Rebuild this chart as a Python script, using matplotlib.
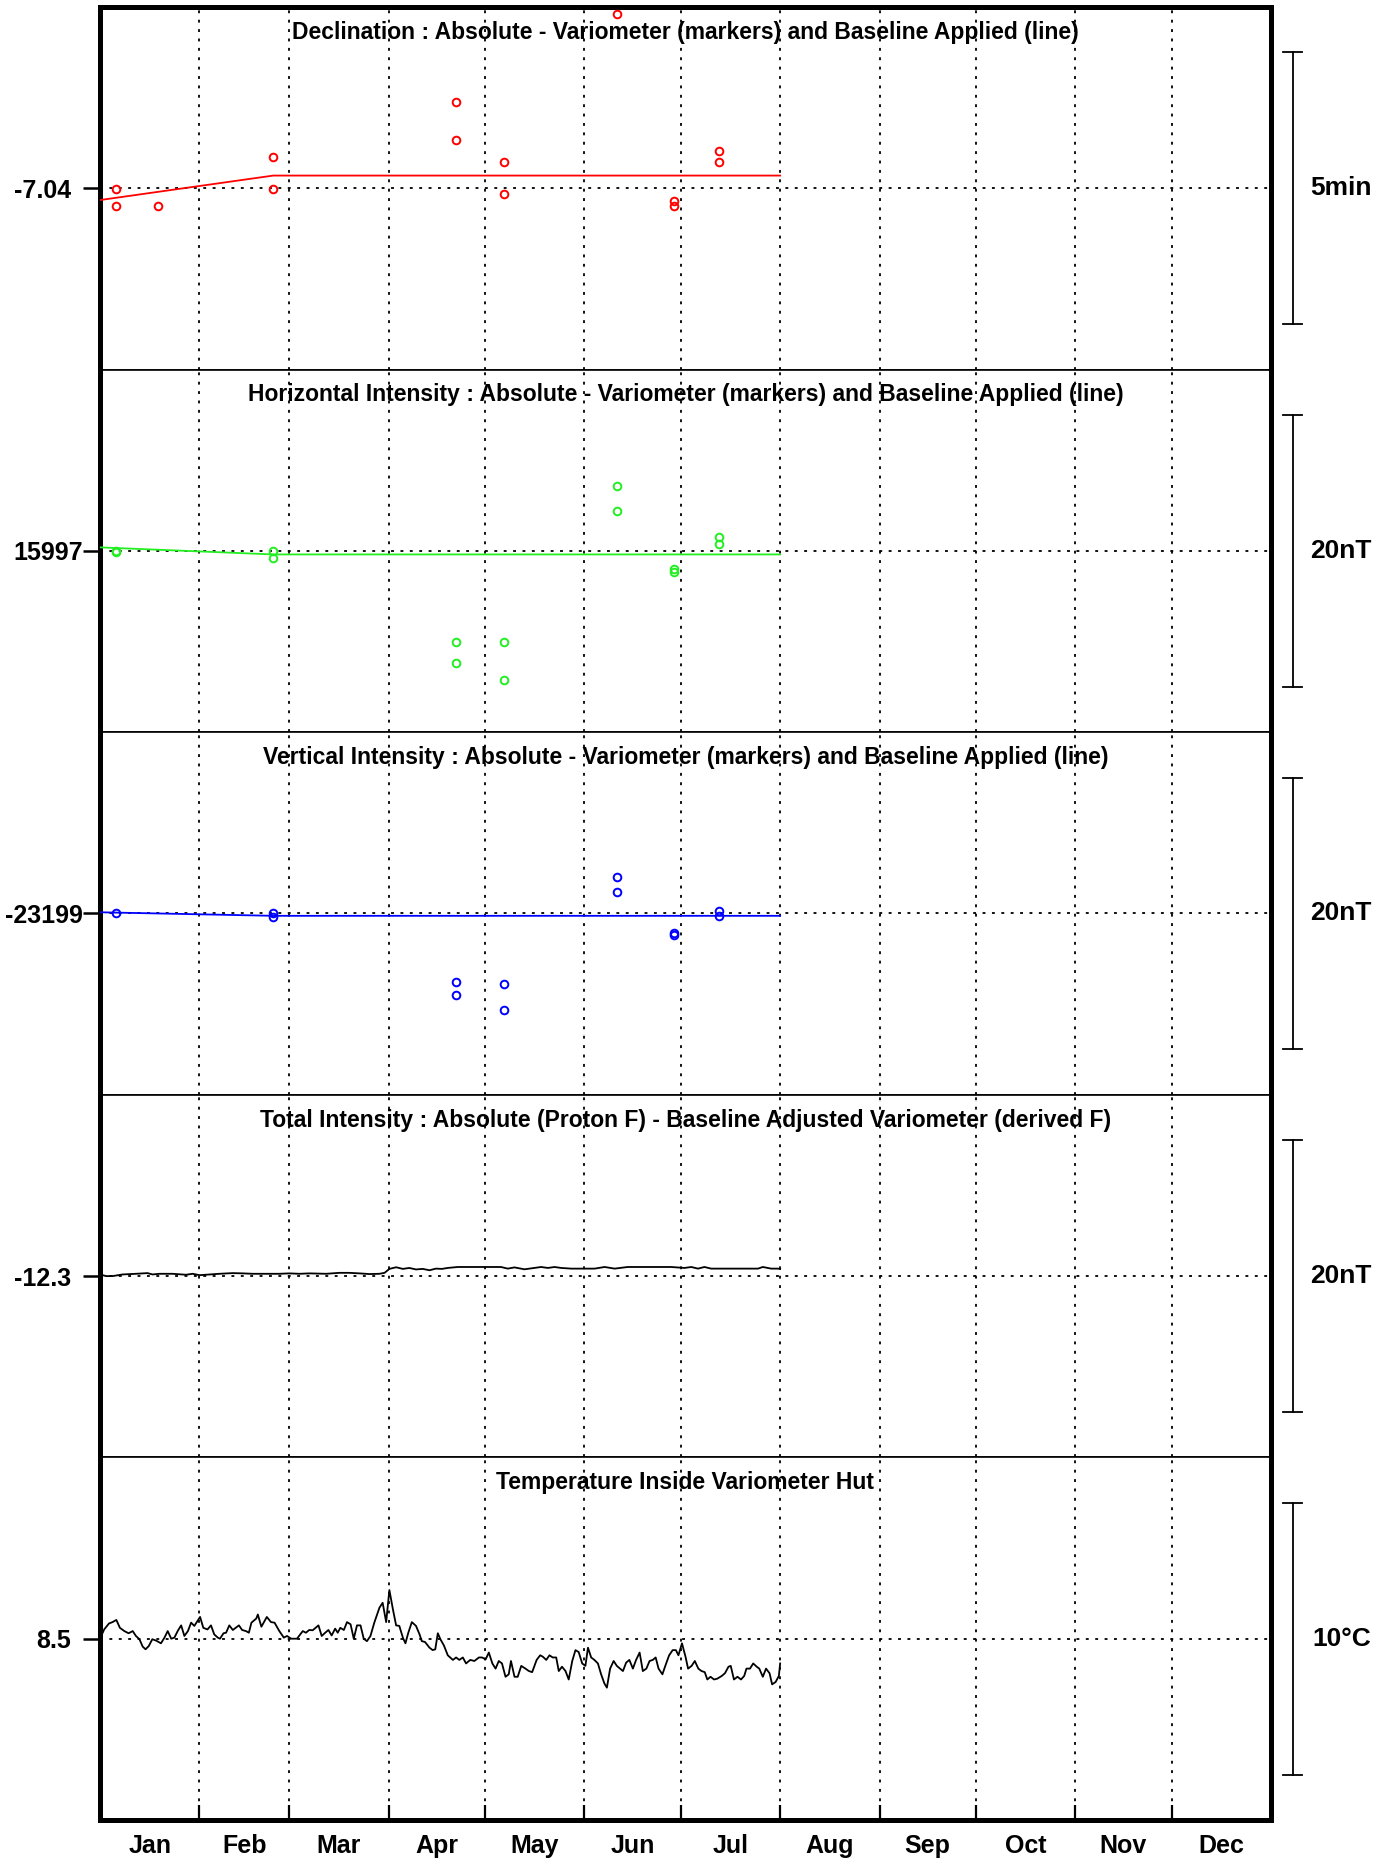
import matplotlib
matplotlib.use('Agg')
import matplotlib.pyplot as plt
import matplotlib.transforms as mtransforms

plt.rcParams['font.family'] = ['Liberation Sans', 'DejaVu Sans']
plt.rcParams['font.weight'] = 'bold'

# x axis: day of year
month_names = ['Jan', 'Feb', 'Mar', 'Apr', 'May', 'Jun',
               'Jul', 'Aug', 'Sep', 'Oct', 'Nov', 'Dec']
month_starts = [0, 31, 59, 90, 120, 151, 181, 212, 243, 273, 304, 334, 365]

# Declination (degrees)
d_days = [5, 5, 18, 54, 54, 111, 111, 126, 126, 161, 179, 179, 193, 193]
d_vals = [-7.0403, -7.0453, -7.0453, -7.0303, -7.0403, -7.0137, -7.0253,
          -7.0320, -7.0418, -6.9867, -7.0440, -7.0455, -7.0287, -7.0320]
d_base_days = [0, 54, 212]
d_base_vals = [-7.0436, -7.0361, -7.0361]

# Horizontal intensity (nT)
h_days = [5, 5, 54, 54, 111, 111, 126, 126, 161, 161, 179, 179, 193, 193]
h_vals = [15997.0, 15996.9, 15997.0, 15996.48, 15990.28, 15988.79, 15990.28,
          15987.48, 16001.80, 15999.97, 15995.69, 15995.43, 15998.05, 15997.52]
h_base_days = [0, 54, 212]
h_base_vals = [15997.26, 15996.74, 15996.74]

# Vertical intensity (nT)
z_days = [5, 54, 54, 111, 111, 126, 126, 161, 161, 179, 179, 193, 193]
z_vals = [-23199.0, -23199.0, -23199.26, -23204.07, -23205.03, -23204.15,
          -23206.07, -23196.29, -23197.43, -23200.40, -23200.57, -23198.83,
          -23199.17]
z_base_days = [0, 54, 212]
z_base_vals = [-23198.91, -23199.17, -23199.17]

# Total intensity difference (nT)
f_days = [0, 1.9, 3.9, 7.0, 11.2, 14.8, 16.4, 18.5, 22.6, 26.8, 28.9, 31.0,
          33.0, 37.2, 41.4, 44.5, 47.6, 51.8, 55.9, 59.0, 62.2, 65.3, 70.5,
          74.6, 77.7, 80.9, 84.0, 87.1, 88.7, 90.2, 92.3, 94.4, 96.4, 98.5,
          100.6, 102.7, 104.7, 106.6, 108.4, 111.5, 118.8, 125.0, 127.1,
          129.2, 132.3, 135.4, 137.5, 139.6, 141.7, 143.7, 146.9, 151.0,
          154.2, 157.3, 160.4, 164.5, 169.7, 178.0, 182.2, 184.3, 186.4,
          188.4, 190.5, 198.8, 205.1, 206.6, 209.2, 211.3, 212.0]
f_vals = [-12.18, -12.30, -12.30, -12.18, -12.13, -12.08, -12.18, -12.13,
          -12.13, -12.20, -12.13, -12.23, -12.20, -12.13, -12.08, -12.10,
          -12.13, -12.13, -12.13, -12.10, -12.13, -12.10, -12.13, -12.06,
          -12.06, -12.10, -12.15, -12.13, -12.06, -11.77, -11.65, -11.77,
          -11.70, -11.81, -11.77, -11.87, -11.75, -11.77, -11.70, -11.63,
          -11.63, -11.63, -11.75, -11.66, -11.80, -11.70, -11.63, -11.70,
          -11.63, -11.70, -11.75, -11.75, -11.75, -11.63, -11.75, -11.63,
          -11.63, -11.63, -11.70, -11.63, -11.75, -11.63, -11.75, -11.75,
          -11.75, -11.63, -11.75, -11.75, -11.78]

# Temperature inside variometer hut (deg C)
t_days = [0.0, 1.3, 2.8, 3.9, 5.1, 6.2, 7.6, 8.9, 10.2, 11.2, 12.3, 13.3, 14.2,
          15.2, 16.3, 17.5, 19.0, 20.1, 21.1, 22.2, 23.2, 24.2, 25.3, 26.3,
          27.4, 28.4, 29.4, 31.2, 32.2, 33.5, 34.6, 35.6, 36.7, 37.4, 38.5,
          39.3, 40.3, 41.4, 43.3, 44.3, 45.5, 46.4, 47.2, 48.7, 49.2, 50.3,
          52.0, 53.3, 54.4, 55.9, 57.3, 58.3, 59.6, 61.4, 63.2, 64.2, 65.2,
          66.3, 68.1, 69.1, 70.2, 71.2, 72.2, 73.3, 74.1, 74.9, 76.0, 77.0,
          78.1, 79.1, 80.1, 81.2, 82.2, 83.2, 84.3, 85.5, 87.1, 88.1, 89.2,
          90.2, 91.3, 92.3, 93.3, 94.4, 95.2, 96.1, 97.2, 98.5, 99.6, 100.3,
          101.3, 102.7, 103.7, 104.5, 105.3, 106.1, 107.2, 108.4, 110.0,
          111.0, 112.0, 113.1, 114.1, 115.4, 116.7, 118.1, 119.1, 120.2,
          121.2, 122.3, 123.3, 124.3, 125.3, 126.4, 127.4, 128.1, 129.2,
          130.2, 131.3, 132.6, 133.7, 134.7, 136.1, 137.2, 138.0, 139.1,
          140.1, 141.1, 142.2, 143.0, 144.0, 145.1, 146.1, 147.2, 148.2,
          149.2, 150.3, 151.3, 152.1, 153.1, 154.1, 155.2, 156.2, 157.2,
          158.0, 159.0, 160.1, 161.1, 163.0, 164.0, 165.0, 166.1, 167.1,
          168.2, 169.2, 170.3, 171.3, 172.3, 173.2, 174.1, 175.3, 176.2,
          177.4, 178.5, 179.5, 180.3, 181.4, 182.5, 183.3, 184.4, 185.4,
          186.5, 187.5, 188.5, 189.3, 190.3, 191.4, 192.4, 193.8, 194.8,
          195.9, 196.6, 197.6, 198.7, 199.8, 200.8, 201.5, 202.6, 203.6,
          204.7, 205.5, 206.6, 207.6, 208.7, 209.5, 210.6, 211.6, 212.0]
t_vals = [8.50, 8.84, 9.06, 9.11, 9.19, 8.90, 8.78, 8.70, 8.78, 8.60, 8.48,
          8.21, 8.11, 8.23, 8.48, 8.43, 8.33, 8.54, 8.78, 8.50, 8.54, 8.78,
          8.99, 8.60, 8.78, 9.09, 8.97, 9.30, 8.90, 8.84, 8.99, 8.66, 8.54,
          8.50, 8.70, 8.72, 8.99, 8.82, 8.99, 8.82, 8.78, 8.72, 9.09, 9.24,
          9.39, 8.94, 9.30, 9.11, 9.09, 8.78, 8.54, 8.60, 8.50, 8.50, 8.78,
          8.72, 8.82, 8.81, 8.99, 8.60, 8.72, 8.82, 8.62, 8.87, 8.72, 8.90,
          8.82, 9.11, 9.03, 8.50, 8.99, 8.99, 8.50, 8.41, 8.60, 9.09, 9.64,
          9.82, 9.11, 10.29, 9.58, 8.99, 8.97, 8.54, 8.33, 8.72, 9.11, 8.97,
          8.66, 8.41, 8.38, 8.17, 8.08, 8.11, 8.70, 8.48, 8.25, 7.89, 7.72,
          7.81, 7.72, 7.81, 7.59, 7.72, 7.68, 7.81, 7.81, 7.74, 7.99, 7.59,
          7.40, 7.68, 7.59, 7.10, 7.19, 7.68, 7.10, 7.10, 7.50, 7.40, 7.31,
          7.27, 7.72, 7.89, 7.84, 7.72, 7.89, 7.81, 7.81, 7.31, 7.47, 7.31,
          7.00, 7.68, 8.08, 8.01, 7.59, 7.50, 8.17, 7.81, 7.72, 7.59, 7.19,
          6.86, 6.70, 7.40, 7.68, 7.50, 7.31, 7.62, 7.72, 7.40, 7.72, 7.99,
          7.31, 7.40, 7.68, 7.72, 7.81, 7.40, 7.19, 7.50, 7.89, 8.08, 8.08,
          7.89, 8.33, 7.84, 7.40, 7.50, 7.68, 7.40, 7.31, 7.27, 7.00, 7.10,
          7.00, 7.03, 7.13, 7.23, 7.47, 7.50, 7.00, 7.10, 7.00, 7.13, 7.40,
          7.40, 7.59, 7.47, 7.40, 7.10, 7.40, 7.23, 6.82, 6.91, 7.13, 7.59]

titles = [
    'Declination : Absolute - Variometer (markers) and Baseline Applied (line)',
    'Horizontal Intensity : Absolute - Variometer (markers) and Baseline Applied (line)',
    'Vertical Intensity : Absolute - Variometer (markers) and Baseline Applied (line)',
    'Total Intensity : Absolute (Proton F) - Baseline Adjusted Variometer (derived F)',
    'Temperature Inside Variometer Hut',
]
centres = [-7.04, 15997, -23199, -12.3, 8.5]
centre_labels = ['-7.04', '15997', '-23199', '-12.3', '8.5']
bar_sizes = [5 / 60.0, 20, 20, 20, 10]
bar_labels = ['5min', '20nT', '20nT', '20nT', '10°C']
label_pads = [9, 0.5, 0.5, 9, 9]

W, H = 1386, 1863
fig = plt.figure(figsize=(W / 100, H / 100), dpi=100)
gs = fig.add_gridspec(5, 1, left=100 / W, right=1271 / W,
                      top=1 - 7 / H, bottom=1 - 1820 / H, hspace=0)
axes = [fig.add_subplot(gs[i]) for i in range(5)]

dot = (0, (1.6, 3.6))
frame_lw = 3.6

for i, ax in enumerate(axes):
    c = centres[i]
    half = bar_sizes[i] / 1.5
    ax.set_xlim(0, 365)
    ax.set_ylim(c - half, c + half)

    for m in month_starts[1:-1]:
        ax.axvline(m, color='black', lw=1.3, ls=dot, zorder=1)
    ax.axhline(c, color='black', lw=1.3, ls=dot, zorder=1)

    ax.set_yticks([c])
    ax.set_yticklabels([centre_labels[i]])
    ax.tick_params(axis='y', direction='out', length=12, width=1.8,
                   labelsize=18, pad=label_pads[i], right=False)

    if i < 4:
        ax.set_xticks([])
    else:
        ax.set_xticks(month_starts[1:-1])
        ax.set_xticklabels([])
        mids = [(a + b) / 2 for a, b in zip(month_starts[:-1], month_starts[1:])]
        ax.set_xticks(mids, minor=True)
        ax.set_xticklabels(month_names, minor=True)
        ax.tick_params(axis='x', which='major', direction='in', length=11,
                       width=1.6, top=False)
        ax.tick_params(axis='x', which='minor', length=0, labelsize=18, pad=10)

    ax.spines['left'].set_linewidth(frame_lw)
    ax.spines['right'].set_linewidth(frame_lw)
    ax.spines['top'].set_linewidth(frame_lw if i == 0 else 1.2)
    ax.spines['bottom'].set_linewidth(frame_lw if i == 4 else 1.2)

    ax.text(0.5, 0.93, titles[i], transform=ax.transAxes, ha='center',
            va='center', fontsize=16.5, fontweight='bold', zorder=5)

    # scale bar on the right
    trans = mtransforms.blended_transform_factory(ax.transAxes, ax.transData)
    lo, hi = c - bar_sizes[i] / 2, c + bar_sizes[i] / 2
    ax.plot([1.0188, 1.0188], [lo, hi], transform=trans, color='black',
            lw=1.3, clip_on=False)
    for yy in (lo, hi):
        ax.plot([1.0102, 1.0265], [yy, yy], transform=trans, color='black',
                lw=1.3, clip_on=False)
    ax.text(1.0600, c, bar_labels[i], transform=trans, ha='center',
            va='center', fontsize=19, fontweight='bold')

mk = dict(ls='none', marker='o', mfc='none', ms=5.5, mew=1.4, clip_on=False,
          zorder=4)
axes[0].plot(d_base_days, d_base_vals, color='#ff0000', lw=1.3, zorder=3)
axes[0].plot(d_days, d_vals, mec='#ff0000', **mk)
axes[1].plot(h_base_days, h_base_vals, color='#22ee22', lw=1.3, zorder=3)
axes[1].plot(h_days, h_vals, mec='#22ee22', **mk)
axes[2].plot(z_base_days, z_base_vals, color='#0000ff', lw=1.3, zorder=3)
axes[2].plot(z_days, z_vals, mec='#0000ff', **mk)
axes[3].plot(f_days, f_vals, color='black', lw=1.3, zorder=3)
axes[4].plot(t_days, t_vals, color='black', lw=1.3, zorder=3)

fig.savefig('out.png', dpi=100)
